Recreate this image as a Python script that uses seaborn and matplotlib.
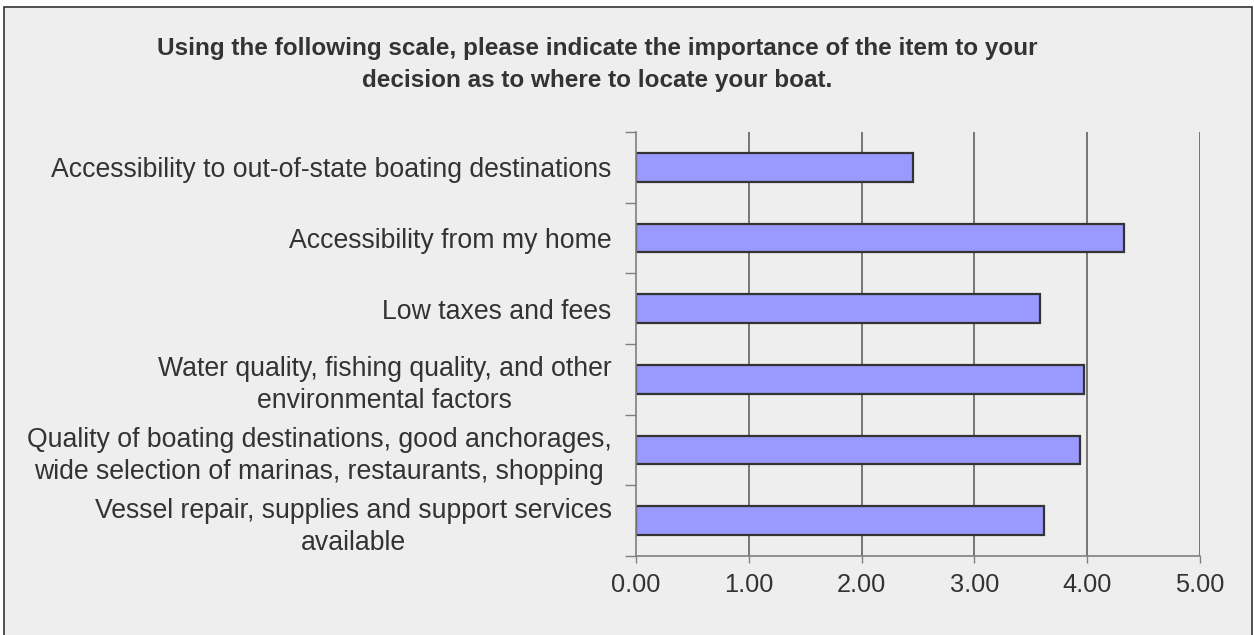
import matplotlib
matplotlib.use("Agg")
import matplotlib.pyplot as plt
import matplotlib.patches as mpatches
from matplotlib.ticker import FixedLocator
import seaborn as sns
import pandas as pd

# Survey items and mean importance scores
items = [
    "Accessibility to out-of-state boating destinations",
    "Accessibility from my home",
    "Low taxes and fees",
    "Water quality, fishing quality, and other\nenvironmental factors",
    "Quality of boating destinations, good anchorages,\nwide selection of marinas, restaurants, shopping",
    "Vessel repair, supplies and support services\navailable",
]
scores = [2.46, 4.33, 3.58, 3.97, 3.94, 3.62]
x_ticks = [0, 1, 2, 3, 4, 5]
x_tick_labels = ["0.00", "1.00", "2.00", "3.00", "4.00", "5.00"]
title = ("Using the following scale, please indicate the importance of the item to your\n"
         "decision as to where to locate your boat.")

df = pd.DataFrame({"item": items, "score": scores})

sns.set_theme(style="white")
plt.rcParams["font.family"] = ["Liberation Sans", "DejaVu Sans"]

W, H = 1254, 635
fig = plt.figure(figsize=(W / 100, H / 100), dpi=100, facecolor="white")

# Grey panel with a dark frame, drawn behind the axes
panel = mpatches.Rectangle((4 / W, -0.02), (1252 - 4) / W, 1.02 - 7 / H,
                           transform=fig.transFigure, facecolor="#EEEEEE",
                           edgecolor="#333333", linewidth=1.2, zorder=-10)
fig.patches.append(panel)

ax = fig.add_axes([636 / W, 1 - 556 / H, (1200 - 636) / W, (556 - 132) / H])
ax.set_facecolor("none")

sns.barplot(data=df, x="score", y="item", orient="h", color="#9999FF",
            saturation=1, edgecolor="#333333", linewidth=1.6, width=0.41, ax=ax)

ax.set_xlim(0, 5)
ax.set_ylim(len(items) - 0.5, -0.5)
ax.set_xlabel("")
ax.set_ylabel("")

# Vertical grid lines at each whole score
for x in x_ticks[1:]:
    ax.axvline(x, color="#555555", linewidth=1.1, zorder=0)

ax.set_xticks(x_ticks)
ax.set_xticklabels(x_tick_labels)
ax.tick_params(axis="x", direction="out", length=5, width=1, color="#808080",
               labelsize=18.3, labelcolor="#333333", pad=7, bottom=True)

ax.set_yticks(range(len(items)))
ax.set_yticklabels(items, multialignment="center", linespacing=1.3)
ax.yaxis.set_minor_locator(FixedLocator([i - 0.5 for i in range(len(items) + 1)]))
ax.tick_params(axis="y", which="major", length=0, labelsize=19.2,
               labelcolor="#333333", pad=17.5)
ax.tick_params(axis="y", which="minor", direction="out", length=8, width=1,
               color="#808080", left=True)

for side in ["top", "right"]:
    ax.spines[side].set_visible(False)
for side in ["left", "bottom"]:
    ax.spines[side].set_color("#808080")
    ax.spines[side].set_linewidth(1.2)

fig.text(597 / W, 1 - 64 / H, title, ha="center", va="center",
         fontsize=17.5, fontweight="bold", color="#333333", linespacing=1.5)

fig.savefig("out.png", dpi=100, facecolor="white")
